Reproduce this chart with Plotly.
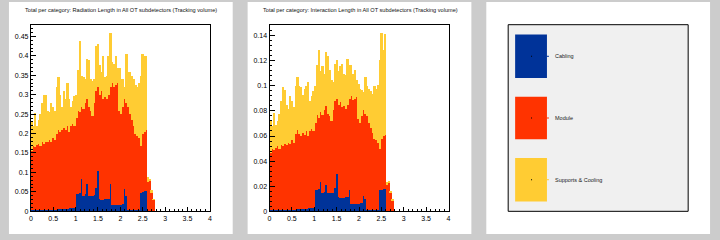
import numpy as np
import plotly.graph_objects as go

# ---------------- data ----------------
BIN_LO = 0.0
BIN_W = 0.04
categories = ["Cabling", "Module", "Supports & Cooling"]

rl_cabling = [0.003, 0.003, 0.003, 0.003, 0.003, 0.003, 0.003, 0.003, 0.003, 0.005,
              0.005, 0.005, 0.005, 0.005, 0.005, 0.006, 0.006, 0.006, 0.006, 0.006,
              0.006, 0.010, 0.010, 0.010, 0.010, 0.046, 0.046, 0.049, 0.083, 0.040,
              0.045, 0.070, 0.040, 0.040, 0.040, 0.044, 0.060, 0.105, 0.033, 0.031,
              0.030, 0.032, 0.033, 0.033, 0.072, 0.018, 0.016, 0.016, 0.016, 0.016,
              0.018, 0.020, 0.058, 0.040, 0.003, 0.003, 0.003, 0.003, 0.003, 0.003,
              0.003, 0.048, 0.050, 0.052, 0.052, 0.0, 0.0, 0.0, 0.0, 0.0]
rl_module = [0.152, 0.167, 0.162, 0.169, 0.172, 0.167, 0.175, 0.172, 0.177, 0.173,
             0.180, 0.175, 0.185, 0.180, 0.195, 0.204, 0.199, 0.204, 0.209, 0.204,
             0.214, 0.195, 0.210, 0.215, 0.210, 0.194, 0.214, 0.206, 0.187, 0.225,
             0.235, 0.220, 0.230, 0.220, 0.205, 0.236, 0.250, 0.215, 0.267, 0.279,
             0.260, 0.263, 0.257, 0.267, 0.248, 0.312, 0.304, 0.309, 0.314, 0.244,
             0.232, 0.250, 0.232, 0.240, 0.267, 0.247, 0.232, 0.217, 0.197, 0.192,
             0.187, 0.122, 0.150, 0.153, 0.158, 0.075, 0.080, 0.050, 0.030, 0.0]
rl_supports = [0.075, 0.050, 0.089, 0.048, 0.060, 0.080, 0.102, 0.125, 0.120, 0.082,
               0.070, 0.100, 0.080, 0.075, 0.120, 0.135, 0.095, 0.060, 0.095, 0.080,
               0.110, 0.085, 0.050, 0.060, 0.078, 0.060, 0.105, 0.185, 0.080, 0.080,
               0.060, 0.103, 0.120, 0.080, 0.090, 0.060, 0.115, 0.111, 0.078, 0.050,
               0.110, 0.050, 0.060, 0.100, 0.139, 0.055, 0.060, 0.075, 0.040, 0.110,
               0.090, 0.070, 0.030, 0.126, 0.090, 0.110, 0.115, 0.120, 0.125, 0.125,
               0.140, 0.178, 0.206, 0.195, 0.190, 0.014, 0.005, 0.005, 0.002, 0.0]

il_cabling = [0.001, 0.001, 0.001, 0.001, 0.001, 0.001, 0.001, 0.001, 0.001, 0.0015,
              0.0015, 0.0015, 0.0015, 0.0015, 0.0015, 0.002, 0.002, 0.002, 0.002, 0.002,
              0.002, 0.003, 0.003, 0.003, 0.003, 0.0175, 0.0175, 0.018, 0.024, 0.0145,
              0.016, 0.0215, 0.0145, 0.0145, 0.0145, 0.015, 0.019, 0.030, 0.0115, 0.011,
              0.011, 0.011, 0.0115, 0.0115, 0.0175, 0.0063, 0.0063, 0.0063, 0.0063, 0.0063,
              0.0065, 0.007, 0.0125, 0.010, 0.001, 0.001, 0.001, 0.001, 0.001, 0.001,
              0.001, 0.017, 0.0175, 0.018, 0.018, 0.0, 0.0, 0.0, 0.0, 0.0]
il_module = [0.046, 0.049, 0.048, 0.050, 0.051, 0.049, 0.052, 0.051, 0.053, 0.0515,
             0.0535, 0.0525, 0.0555, 0.0535, 0.0605, 0.063, 0.060, 0.058, 0.061, 0.059,
             0.062, 0.057, 0.061, 0.063, 0.061, 0.0535, 0.0595, 0.057, 0.055, 0.0625,
             0.065, 0.0625, 0.0635, 0.0615, 0.0575, 0.066, 0.069, 0.060, 0.0735, 0.076,
             0.072, 0.073, 0.0705, 0.0735, 0.0725, 0.0857, 0.0827, 0.0837, 0.0847, 0.0677,
             0.0645, 0.069, 0.0685, 0.068, 0.075, 0.070, 0.066, 0.062, 0.057, 0.056,
             0.054, 0.033, 0.0405, 0.042, 0.043, 0.021, 0.023, 0.015, 0.009, 0.0]
il_supports = [0.025, 0.018, 0.0294, 0.018, 0.020, 0.028, 0.035, 0.047, 0.043, 0.032,
               0.027, 0.0385, 0.031, 0.028, 0.038, 0.0425, 0.038, 0.039, 0.030, 0.037,
               0.036, 0.043, 0.024, 0.026, 0.032, 0.029, 0.040, 0.0535, 0.033, 0.039,
               0.029, 0.043, 0.046, 0.037, 0.033, 0.022, 0.030, 0.031, 0.027, 0.029,
               0.035, 0.026, 0.027, 0.037, 0.027, 0.025, 0.021, 0.023, 0.014, 0.028,
               0.027, 0.021, 0.014, 0.029, 0.024, 0.027, 0.029, 0.031, 0.042, 0.041,
               0.046, 0.071, 0.084, 0.069, 0.0805, 0.003, 0.001, 0.001, 0.0005, 0.0]

titles = ["Total per category: Radiation Length in All OT subdetectors (Tracking volume)",
          "Total per category: Interaction Length in All OT subdetectors (Tracking volume)"]
x_ticks = [0, 0.5, 1, 1.5, 2, 2.5, 3, 3.5, 4]
rl_yticks = [0, 0.05, 0.1, 0.15, 0.2, 0.25, 0.3, 0.35, 0.4, 0.45]
il_yticks = [0, 0.02, 0.04, 0.06, 0.08, 0.1, 0.12, 0.14]

# ---------------- style ----------------
COLORS = ["#003399", "#ff3300", "#ffcc33"]
W, H = 720, 240
FONT = "Liberation Sans, Arial, Helvetica, sans-serif"

def px(x):
    return x / W

def py(y):
    return 1 - y / H

centers = BIN_LO + BIN_W * (np.arange(len(rl_cabling)) + 0.5)

fig = go.Figure()
series = [(rl_cabling, rl_module, rl_supports), (il_cabling, il_module, il_supports)]
for k, ser in enumerate(series):
    xa = "x" if k == 0 else "x2"
    ya = "y" if k == 0 else "y2"
    for name, vals, col in zip(categories, ser, COLORS):
        fig.add_trace(go.Bar(x=centers, y=vals, width=BIN_W, name=name,
                             marker=dict(color=col, line=dict(width=0)),
                             xaxis=xa, yaxis=ya, showlegend=False))

# pads
pads_x = [(7, 232), (247, 472), (487, 712)]
shapes = []
for x0, x1 in pads_x:
    shapes.append(dict(type="rect", xref="paper", yref="paper", x0=px(x0), x1=px(x1),
                       y0=py(237), y1=py(2), fillcolor="white", line=dict(width=0), layer="below"))
# legend frame
shapes.append(dict(type="rect", xref="paper", yref="paper", x0=px(509), x1=px(690),
                   y0=py(214), y1=py(25), fillcolor="#f0f0f0", line=dict(color="black", width=1)))
leg_y = [(35, 79), (98, 141), (160, 204)]
annotations = []
for (y0, y1), col, name in zip(leg_y, COLORS, categories):
    shapes.append(dict(type="rect", xref="paper", yref="paper", x0=px(516), x1=px(548),
                       y0=py(y1), y1=py(y0), fillcolor=col, line=dict(width=0)))
    yc = (y0 + y1) / 2
    shapes.append(dict(type="rect", xref="paper", yref="paper", x0=px(532), x1=px(533),
                       y0=py(yc + 0.5), y1=py(yc - 0.5), fillcolor="black", line=dict(width=0)))
    shapes.append(dict(type="line", xref="paper", yref="paper", x0=px(548), x1=px(550),
                       y0=py(yc), y1=py(yc), line=dict(color=col, width=1)))
    annotations.append(dict(text=name, x=px(554), y=py(yc), xref="paper", yref="paper",
                            xanchor="left", yanchor="middle", showarrow=False,
                            font=dict(size=5.5, color="#222", family=FONT)))

for k, t in enumerate(titles):
    annotations.append(dict(text=t, x=px(120 + 240 * k), y=py(10), xref="paper", yref="paper",
                            xanchor="center", yanchor="middle", showarrow=False,
                            font=dict(size=5.6, color="#111", family=FONT)))

ydom = [py(214), py(25)]
common_x = dict(range=[0, 4], tickvals=x_ticks, ticks="inside", ticklen=4, tickwidth=1,
                tickcolor="black", showline=True, linecolor="black", linewidth=1, mirror=True,
                showgrid=False, zeroline=False, tickfont=dict(size=7, color="black", family=FONT),
                minor=dict(ticks="inside", ticklen=2, dtick=0.1, tick0=0, tickcolor="black",
                           showgrid=False))
common_y = dict(ticks="inside", ticklen=5, tickwidth=1, tickcolor="black", showline=True,
                linecolor="black", linewidth=1, mirror=True, showgrid=False, zeroline=False,
                tickfont=dict(size=7, color="black", family=FONT))

fig.update_layout(
    width=W, height=H, margin=dict(l=0, r=0, t=0, b=0),
    paper_bgcolor="#cccccc", plot_bgcolor="white",
    barmode="stack", bargap=0,
    shapes=shapes, annotations=annotations,
    xaxis=dict(domain=[px(29), px(209)], anchor="y", **common_x),
    xaxis2=dict(domain=[px(269), px(449)], anchor="y2", **common_x),
    yaxis=dict(domain=ydom, anchor="x", range=[0, 0.48], tickvals=rl_yticks,
               minor=dict(ticks="inside", ticklen=2.5, dtick=0.01, tick0=0, tickcolor="black"),
               **common_y),
    yaxis2=dict(domain=ydom, anchor="x2", range=[0, 0.1487], tickvals=il_yticks,
                minor=dict(ticks="inside", ticklen=2.5, dtick=0.004, tick0=0, tickcolor="black"),
                **common_y),
)

fig.write_html("out.html")
